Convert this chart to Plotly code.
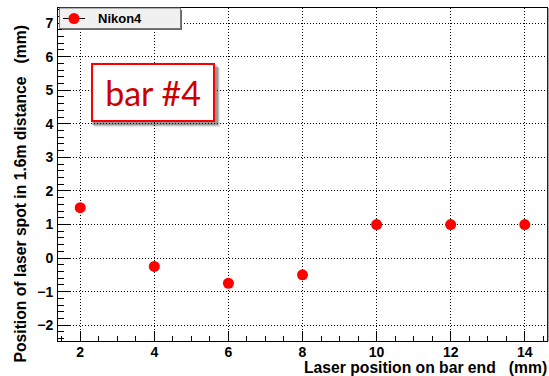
import plotly.graph_objects as go

# Measured laser-spot offsets for bar #4
laser_pos = [2, 4, 6, 8, 10, 12, 14]
spot_pos = [1.5, -0.25, -0.75, -0.5, 1.0, 1.0, 1.0]
series_name = "Nikon4"
x_ticks = [2, 4, 6, 8, 10, 12, 14]
y_ticks = [-2, -1, 0, 1, 2, 3, 4, 5, 6, 7]

FONT = "Liberation Sans, Arial, Helvetica, sans-serif"
W, H = 549, 376
ML, MR, MT, MB = 58, 2, 8, 35
PW, PH = W - ML - MR, H - MT - MB
MARKER_RED = "#ff0000"


def px_x(px):
    return (px - ML) / PW


def px_y(py):
    return (H - MB - py) / PH


fig = go.Figure()

fig.add_trace(go.Scatter(
    x=laser_pos, y=spot_pos, mode="markers", name=series_name,
    showlegend=False,
    marker=dict(color=MARKER_RED, size=11, line=dict(width=0)),
    cliponaxis=False,
))

axis_common = dict(
    showline=True, linecolor="black", linewidth=1, mirror=True,
    ticks="inside", tickcolor="black", tickwidth=1,
    showgrid=True, gridcolor="black", gridwidth=1, griddash="1px,2px",
    zeroline=False,
    tickfont=dict(family=FONT, size=14, color="black", weight="bold"),
)

fig.update_xaxes(
    range=[1.4, 14.6], tickvals=x_ticks, ticklen=10,
    minor=dict(dtick=0.5, tick0=0, ticklen=5, ticks="inside",
               tickcolor="black", showgrid=False),
    ticklabelstandoff=-2,
    **axis_common,
)
fig.update_yaxes(
    range=[-2.47, 7.45], tickvals=y_ticks, ticklen=13,
    minor=dict(dtick=0.2, tick0=0, ticklen=6, ticks="inside",
               tickcolor="black", showgrid=False),
    ticklabelstandoff=1,
    **axis_common,
)

shapes = []
# legend box: shadow, frame, key line and marker
shapes.append(dict(type="rect", xref="paper", yref="paper",
                   x0=px_x(62), x1=px_x(182), y0=px_y(30), y1=px_y(10),
                   fillcolor="#666666", line=dict(width=0), layer="above"))
shapes.append(dict(type="rect", xref="paper", yref="paper",
                   x0=px_x(59.5), x1=px_x(180.5), y0=px_y(28.5), y1=px_y(8),
                   fillcolor="#f0f0f0", line=dict(color="#777777", width=1),
                   layer="above"))
shapes.append(dict(type="line", xref="paper", yref="paper",
                   x0=px_x(63), x1=px_x(85), y0=px_y(18.5), y1=px_y(18.5),
                   line=dict(color="black", width=1), layer="above"))
shapes.append(dict(type="circle", xref="paper", yref="paper",
                   x0=px_x(68.5), x1=px_x(79.5), y0=px_y(24), y1=px_y(13),
                   fillcolor=MARKER_RED, line=dict(width=0), layer="above"))
# annotation box shadow (soft)
for i, op in enumerate([0.10, 0.15, 0.22]):
    d = 5 - i
    shapes.append(dict(type="rect", xref="paper", yref="paper",
                       x0=px_x(92 + d - 3), x1=px_x(215 + d),
                       y0=px_y(122 + d), y1=px_y(66 + d - 3),
                       fillcolor=f"rgba(0,0,0,{op})", line=dict(width=0),
                       layer="above"))
# right frame shade
shapes.append(dict(type="line", xref="paper", yref="paper",
                   x0=px_x(548), x1=px_x(548), y0=0, y1=1,
                   line=dict(color="#444444", width=1)))

annotations = [
    dict(text=series_name, xref="paper", yref="paper",
         x=px_x(96), y=px_y(18.5), xanchor="left", yanchor="middle",
         showarrow=False,
         font=dict(family=FONT, size=13, color="black", weight="bold")),
    dict(text="bar #4", xref="paper", yref="paper",
         x=px_x(152.5), y=px_y(92.5), xanchor="center", yanchor="middle",
         showarrow=False, width=120, height=55,
         font=dict(family="Lato, " + FONT, size=34, color="#cc0000"),
         bgcolor="white", bordercolor="#ff0000", borderwidth=2, borderpad=0),
    dict(text="Laser position on bar end   (mm)", xref="paper", yref="paper",
         x=px_x(549), y=px_y(367), xanchor="right", yanchor="middle",
         showarrow=False,
         font=dict(family=FONT, size=15.7, color="black", weight="bold")),
    dict(text="Position of laser spot in 1.6m distance   (mm)",
         xref="paper", yref="paper", textangle=-90,
         x=px_x(20), y=px_y(24), xanchor="center", yanchor="top",
         showarrow=False,
         font=dict(family=FONT, size=15.7, color="black", weight="bold")),
]

fig.update_layout(
    width=W, height=H,
    margin=dict(l=ML, r=MR, t=MT, b=MB, pad=0),
    paper_bgcolor="white", plot_bgcolor="white",
    showlegend=False,
    shapes=shapes,
    annotations=annotations,
)

fig.write_html("out.html")
